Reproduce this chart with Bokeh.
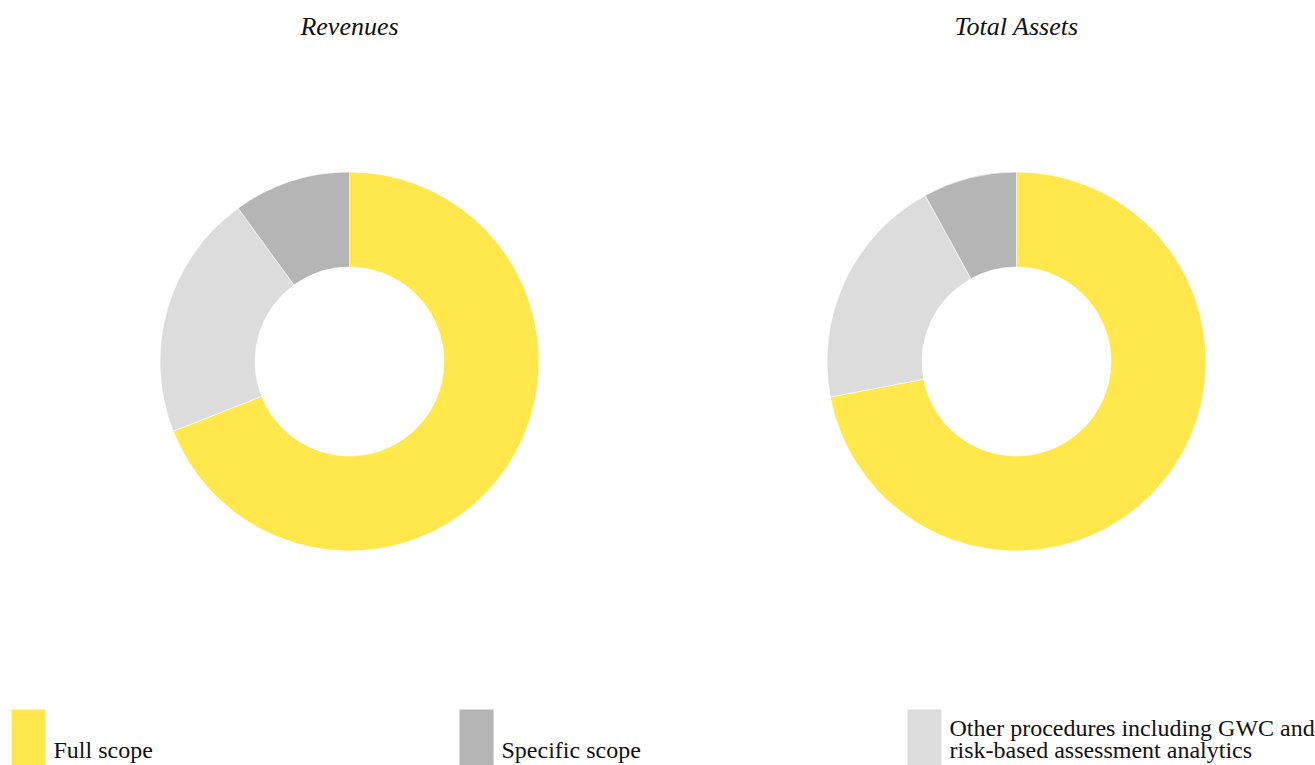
import math
from bokeh.plotting import figure
from bokeh.models import Range1d, ColumnDataSource
from bokeh.core.properties import value
from bokeh.embed import file_html
from bokeh.resources import INLINE

# ---- data ----
chart_titles = ["Revenues", "Total Assets"]
categories = ["Full scope", "Specific scope",
              "Other procedures including GWC and\nrisk-based assessment analytics"]
colors = ["#FFE74C", "#B5B5B5", "#DCDCDC"]
revenues = [69, 10, 21]        # Full, Specific, Other (%)
total_assets = [72, 8, 20]
draw_order = [0, 2, 1]         # clockwise from 12 o'clock: Full, Other, Specific

# ---- layout (pixel coordinates, y measured from top) ----
W, H = 1315, 765
FONT = value("Liberation Serif")
centers_x = [349, 1016]
center_y = H - 361
r_out, r_in = 189.5, 94.5

p = figure(width=W, height=H, x_range=Range1d(0, W), y_range=Range1d(0, H),
           output_backend="svg", toolbar_location=None, min_border=0,
           x_axis_location=None, y_axis_location=None)
p.grid.visible = False
p.outline_line_color = None
p.background_fill_color = "white"
p.border_fill_color = "white"

for cx, vals in zip(centers_x, [revenues, total_assets]):
    total = float(sum(vals))
    xs, ys, starts, ends, cols = [], [], [], [], []
    cum = 0.0
    for idx in draw_order:
        frac0 = cum / total
        cum += vals[idx]
        frac1 = cum / total
        xs.append(cx); ys.append(center_y)
        starts.append(math.pi / 2 - frac1 * 2 * math.pi)
        ends.append(math.pi / 2 - frac0 * 2 * math.pi)
        cols.append(colors[idx])
    src = ColumnDataSource(dict(x=xs, y=ys, s=starts, e=ends, c=cols))
    p.annular_wedge(x="x", y="y", inner_radius=r_in, outer_radius=r_out,
                    start_angle="s", end_angle="e", direction="anticlock",
                    fill_color="c", line_color="white", line_width=0.6, source=src)

# titles
p.text(x=centers_x, y=[H - 26] * 2, text=chart_titles, text_font=FONT,
       text_font_style="italic", text_font_size="26px", text_color="#111111",
       text_align="center", text_baseline="alphabetic")

# legend
col_x = [11, 459, 907]
sq_w, sq_top = 34, 709
line_h = 22
p.quad(left=col_x, right=[x + sq_w for x in col_x], top=[H - sq_top] * 3,
       bottom=[-5] * 3, fill_color=colors, line_color=None)
tx, ty, tt = [], [], []
for cxl, lab in zip(col_x, categories):
    lines = lab.split("\n")
    n = len(lines)
    for i, ln in enumerate(lines):
        tx.append(cxl + 42)
        ty.append(H - (749 - (n - 1 - i) * line_h))
        tt.append(ln)
p.text(x=tx, y=ty, text=tt, text_font=FONT, text_font_size="24px",
       text_color="#111111", text_align="left", text_baseline="alphabetic")

open("out.html", "w").write(file_html(p, INLINE))
